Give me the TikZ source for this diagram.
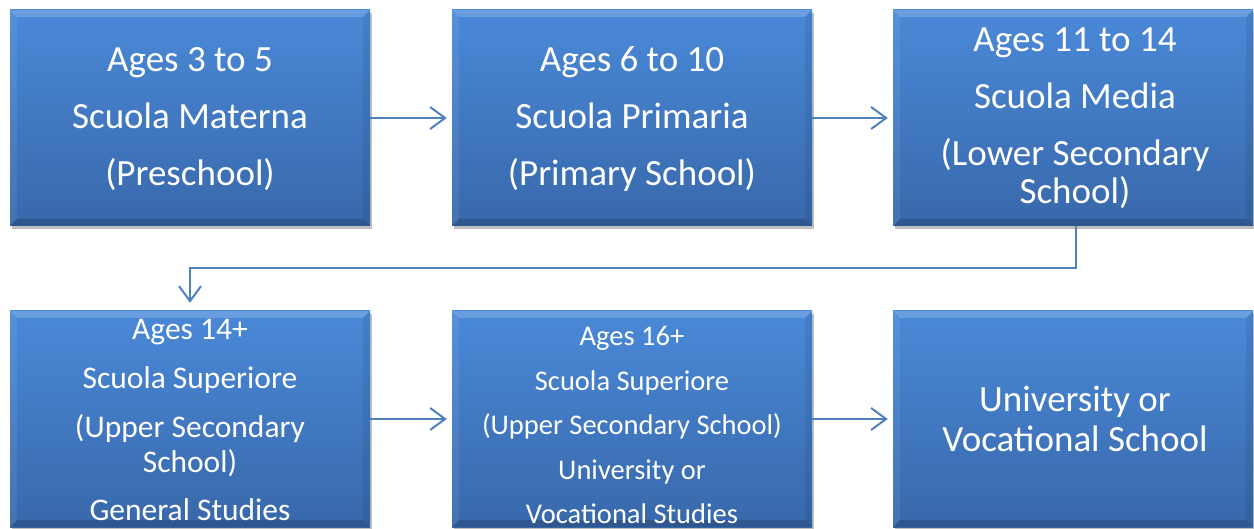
\documentclass[tikz,border=0pt]{standalone}
\usepackage{fontspec}
\setmainfont{Carlito}
\usetikzlibrary{arrows.meta,shadows}
\definecolor{boxtop}{RGB}{74,137,216}
\definecolor{boxbot}{RGB}{56,104,170}
\definecolor{arrowc}{RGB}{79,129,189}
\tikzset{
  stagebox/.style={rectangle, minimum width=360pt, minimum height=216pt, inner sep=0pt,
    draw=none, top color=boxtop, bottom color=boxbot,
    drop shadow={shadow xshift=2pt, shadow yshift=-3pt, opacity=0.25, fill=black},
    path picture={
      \fill[white, opacity=0.18] (path picture bounding box.north west) -- (path picture bounding box.north east)
        -- ([xshift=-7pt,yshift=-7pt]path picture bounding box.north east) -- ([xshift=7pt,yshift=-7pt]path picture bounding box.north west) -- cycle;
      \fill[black, opacity=0.16] (path picture bounding box.south west) -- (path picture bounding box.south east)
        -- ([xshift=-7pt,yshift=7pt]path picture bounding box.south east) -- ([xshift=7pt,yshift=7pt]path picture bounding box.south west) -- cycle;
      \fill[white, opacity=0.07] (path picture bounding box.north west) -- ([xshift=7pt,yshift=-7pt]path picture bounding box.north west)
        -- ([xshift=7pt,yshift=7pt]path picture bounding box.south west) -- (path picture bounding box.south west) -- cycle;
      \fill[black, opacity=0.07] (path picture bounding box.north east) -- ([xshift=-7pt,yshift=-7pt]path picture bounding box.north east)
        -- ([xshift=-7pt,yshift=7pt]path picture bounding box.south east) -- (path picture bounding box.south east) -- cycle;
    }},
  stagetext/.style={text=white, align=center, inner sep=0pt},
  flow/.style={draw=arrowc, line width=2pt, -{Straight Barb[length=15pt,width=22pt]}, shorten >=5pt},
}
\begin{document}
\begin{tikzpicture}[x=1pt, y=-1pt]
\useasboundingbox[fill=white] (0,0) rectangle (1254,529);
% boxes
\node[stagebox] (b1) at (190,118) {};
\node[stagebox] (b2) at (632,118) {};
\node[stagebox] (b3) at (1073,118) {};
\node[stagebox] (b4) at (190,419) {};
\node[stagebox] (b5) at (632,419) {};
\node[stagebox] (b6) at (1073,419) {};
% texts
\node[stagetext, font=\fontsize{37}{57}\selectfont] (t1) at (190,119)
  {Ages 3 to 5\\Scuola Materna\\(Preschool)};
\node[stagetext, font=\fontsize{37}{57}\selectfont] (t2) at (632,119)
  {Ages 6 to 10\\Scuola Primaria\\(Primary School)};
\node[stagetext, font=\fontsize{37}{38}\selectfont] (t3) at (1075,118)
  {Ages 11 to 14\\[19pt]Scuola Media\\[19pt](Lower Secondary\\School)};
\node[stagetext, font=\fontsize{31.5}{35}\selectfont] (t4) at (190,420)
  {Ages 14+\\[14pt]Scuola Superiore\\[14pt](Upper Secondary\\School)\\[13pt]General Studies};
\node[stagetext, font=\fontsize{28.5}{44.5}\selectfont] (t5) at (632,425)
  {Ages 16+\\Scuola Superiore\\(Upper Secondary School)\\University or\\Vocational Studies};
\node[stagetext, font=\fontsize{37}{40}\selectfont] (t6) at (1075,419)
  {University or\\Vocational School};
% connectors
\draw[flow] (b1.east) -- (b2.west);
\draw[flow] (b2.east) -- (b3.west);
\draw[flow, shorten >=8pt] ([xshift=3pt]b3.south) -- ++(0,42) -| (b4.north);
\draw[flow] (b4.east) -- (b5.west);
\draw[flow] (b5.east) -- (b6.west);
\end{tikzpicture}
\end{document}
